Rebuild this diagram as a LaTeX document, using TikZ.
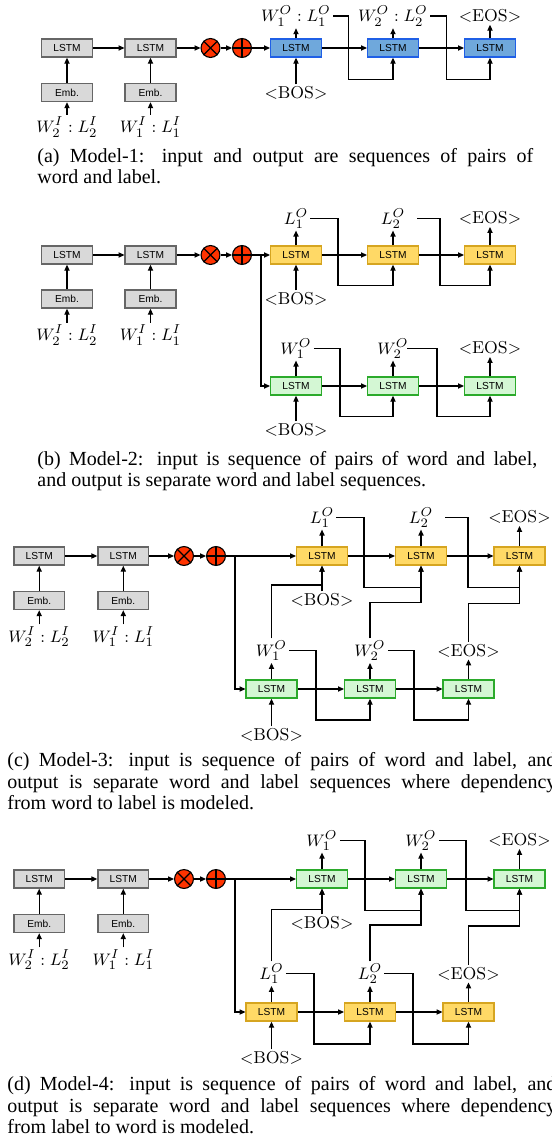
\documentclass[tikz,border=0pt]{standalone}
\usepackage{fontspec}
\newfontfamily\capfont{Liberation Serif}
\newfontfamily\boxfont{Liberation Sans}
\usetikzlibrary{arrows.meta}
\newlength\pxu \setlength\pxu{0.54pt}
\definecolor{grayfill}{HTML}{D9D9D9}
\definecolor{grayline}{HTML}{666666}
\definecolor{bluefill}{HTML}{6FA8DC}
\definecolor{blueline}{HTML}{1F5FE6}
\definecolor{yelfill}{HTML}{FFD966}
\definecolor{yelline}{HTML}{D6A520}
\definecolor{grnfill}{HTML}{D4F7D4}
\definecolor{grnline}{HTML}{2BAA2B}
\definecolor{opred}{HTML}{FF3300}
\tikzset{
  ln/.style={line width=0.6pt, black},
  arr/.style={ln, -{Triangle[length=3.2pt,width=2.8pt]}},
  lstmbox/.style={draw, line width=0.8pt, minimum width=27.3pt, minimum height=9.7pt, inner sep=0pt, font=\boxfont\fontsize{5.5}{6}\selectfont},
  graybox/.style={lstmbox, fill=grayfill, draw=grayline},
  bluebox/.style={lstmbox, fill=bluefill, draw=blueline},
  yellowbox/.style={lstmbox, fill=yelfill, draw=yelline},
  greenbox/.style={lstmbox, fill=grnfill, draw=grnline},
  lab/.style={inner sep=1pt, font=\fontsize{9.3}{11}\selectfont},
  opnode/.style={circle, draw, fill=opred, minimum size=10.2pt, inner sep=0pt, line width=0.6pt},
  capnode/.style={anchor=base west, inner sep=0pt, font=\capfont\fontsize{10.8}{12}\selectfont},
}
% #1 prefix, #2 x LSTM1, #3 x LSTM2, #4 x times, #5 x plus, #6 y LSTM, #7 y Emb, #8 y input label
\newcommand\Encoder[8]{%
  \node[graybox] (#1l1) at (#2,#6) {LSTM};
  \node[graybox] (#1l2) at (#3,#6) {LSTM};
  \node[graybox] (#1e1) at (#2,#7) {Emb.};
  \node[graybox] (#1e2) at (#3,#7) {Emb.};
  \node[lab] (#1i1) at (#2,#8) {$W_2^I : L_2^I$};
  \node[lab] (#1i2) at (#3,#8) {$W_1^I : L_1^I$};
  \node[opnode] (#1m) at (#4,#6) {};
  \node[opnode] (#1p) at (#5,#6) {};
  \draw[ln] (#1m.45) -- (#1m.225) (#1m.135) -- (#1m.315);
  \draw[ln] (#1p.north) -- (#1p.south) (#1p.east) -- (#1p.west);
  \draw[arr] (#1i1) -- (#1e1);
  \draw[arr] (#1i2) -- (#1e2);
  \draw[arr] (#1e1) -- (#1l1);
  \draw[arr] (#1e2) -- (#1l2);
  \draw[arr] (#1l1) -- (#1l2);
  \draw[arr] (#1l2) -- (#1m);
  \draw[arr] (#1m) -- (#1p);
}
\begin{document}
\begin{tikzpicture}[x=0.54pt,y=-0.54pt]
\useasboundingbox (0,0) rectangle (552,1145);

%% ---------------- (a)
\Encoder{a}{67}{150.5}{210.5}{242}{48}{92.5}{127}
\node[bluebox] (aD1) at (296,48) {LSTM};
\node[bluebox] (aD2) at (393,48) {LSTM};
\node[bluebox] (aD3) at (490,48) {LSTM};
\node[lab] (aT1) at (296,16) {$W_1^O : L_1^O$};
\node[lab] (aT2) at (393,16) {$W_2^O : L_2^O$};
\node[lab] (aT3) at (490,16) {$<$EOS$>$};
\node[lab] (aB) at (296,93) {$<$BOS$>$};
\draw[arr] (ap) -- (aD1);
\draw[arr] (aD1) -- (aD2);
\draw[arr] (aD2) -- (aD3);
\draw[arr] (aD1) -- (aT1);
\draw[arr] (aD2) -- (aT2);
\draw[arr] (aD3) -- (aT3);
\draw[arr] (aB) -- (aD1);
\coordinate (aK1) at (348.6,79.3);
\coordinate (aK2) at (446.5,79.3);
\draw[arr] (aT1.east) -| (aK1) -| (aD2.south);
\draw[arr] (aT2.east) -| (aK2) -| (aD3.south);
\node[capnode] (ca1) at (37,163) {\makebox[496\pxu][s]{(a) Model-1: input and output are sequences of pairs of}};
\node[capnode] (ca2) at (37,184) {word and label.};

%% ---------------- (b)
\Encoder{b}{67}{150.5}{210.5}{242}{255}{299}{335}
\node[yellowbox] (bD1) at (296,255) {LSTM};
\node[yellowbox] (bD2) at (393,255) {LSTM};
\node[yellowbox] (bD3) at (490,255) {LSTM};
\node[lab] (bT1) at (296,218.3) {$L_1^O$};
\node[lab] (bT2) at (393,218.3) {$L_2^O$};
\node[lab] (bT3) at (490,218.3) {$<$EOS$>$};
\node[lab] (bB) at (296,299) {$<$BOS$>$};
\node[greenbox] (bG1) at (296,386) {LSTM};
\node[greenbox] (bG2) at (393,386) {LSTM};
\node[greenbox] (bG3) at (490,386) {LSTM};
\node[lab] (bW1) at (296,348.3) {$W_1^O$};
\node[lab] (bW2) at (393,348.3) {$W_2^O$};
\node[lab] (bW3) at (490,348.3) {$<$EOS$>$};
\node[lab] (bBB) at (296,430) {$<$BOS$>$};
\coordinate (bJ) at (261,255);
\draw[ln] (bp) -- (bJ);
\draw[arr] (bJ) -- (bD1);
\draw[arr] (bJ) |- (bG1);
\foreach \r in {D,G}{
  \draw[arr] (b\r1) -- (b\r2);
  \draw[arr] (b\r2) -- (b\r3);
}
\draw[arr] (bD1) -- (bT1);
\draw[arr] (bD2) -- (bT2);
\draw[arr] (bD3) -- (bT3);
\draw[arr] (bG1) -- (bW1);
\draw[arr] (bG2) -- (bW2);
\draw[arr] (bG3) -- (bW3);
\draw[arr] (bB) -- (bD1);
\draw[arr] (bBB) -- (bG1);
\coordinate (bS2) at (417,218.3);
\coordinate (bK1) at (338,285.7);
\coordinate (bK2) at (440,285.7);
\draw[arr] (bT1.east) -| (bK1) -| (bD2.south);
\draw[arr] (bS2) -| (bK2) -| (bD3.south);
\coordinate (bR2) at (407,348.3);
\coordinate (bK3) at (340,416.7);
\coordinate (bK4) at (437,416.7);
\draw[arr] (bW1.east) -| (bK3) -| (bG2.south);
\draw[arr] (bR2) -| (bK4) -| (bG3.south);
\node[capnode] (cb1) at (37,465) {\makebox[500\pxu][s]{(b) Model-2: input is sequence of pairs of word and label,}};
\node[capnode] (cb2) at (37,486) {and output is separate word and label sequences.};

%% ---------------- (c)
\Encoder{c}{39.2}{123.3}{184}{216}{556}{600.5}{636.7}
\node[yellowbox] (cD1) at (322,556) {LSTM};
\node[yellowbox] (cD2) at (421,556) {LSTM};
\node[yellowbox] (cD3) at (519.5,556) {LSTM};
\node[lab] (cT1) at (322,517.3) {$L_1^O$};
\node[lab] (cT2) at (421,517.3) {$L_2^O$};
\node[lab] (cT3) at (519.5,517.3) {$<$EOS$>$};
\node[lab] (cB) at (322,600) {$<$BOS$>$};
\node[greenbox] (cG1) at (271.5,689) {LSTM};
\node[greenbox] (cG2) at (370,689) {LSTM};
\node[greenbox] (cG3) at (468.5,689) {LSTM};
\node[lab] (cW1) at (271.5,650.7) {$W_1^O$};
\node[lab] (cW2) at (370,650.7) {$W_2^O$};
\node[lab] (cW3) at (468.5,650.7) {$<$EOS$>$};
\node[lab] (cBB) at (271.5,735) {$<$BOS$>$};
\coordinate (cJ) at (235,556);
\draw[ln] (cp) -- (cJ);
\draw[arr] (cJ) -- (cD1);
\draw[arr] (cJ) |- (cG1);
\foreach \r in {D,G}{
  \draw[arr] (c\r1) -- (c\r2);
  \draw[arr] (c\r2) -- (c\r3);
}
\draw[arr] (cD1) -- (cT1);
\draw[arr] (cD2) -- (cT2);
\draw[arr] (cD3) -- (cT3);
\draw[arr] (cG1) -- (cW1);
\draw[arr] (cG2) -- (cW2);
\draw[arr] (cG3) -- (cW3);
\draw[arr] (cB) -- (cD1);
\draw[arr] (cBB) -- (cG1);
\coordinate (cS2) at (445.4,517.3);
\coordinate (cK1) at (364,587.3);
\coordinate (cK2) at (468,587.3);
\draw[arr] (cT1.east) -| (cK1) -| (cD2.south);
\draw[arr] (cS2) -| (cK2) -| (cD3.south);
\coordinate (cX1) at (322,585);
\coordinate (cX2) at (421,602.7);
\coordinate (cX3) at (519.5,603.3);
\draw[arr] (cW1.north) |- (cX1) -- (cD1.south);
\draw[arr] (cW2.north) |- (cX2) -- (cD2.south);
\draw[arr] (cW3.north) |- (cX3) -- (cD3.south);
\coordinate (cK3) at (316,720);
\coordinate (cK4) at (414,720);
\draw[arr] (cW1.east) -| (cK3) -| (cG2.south);
\draw[arr] (cW2.east) -| (cK4) -| (cG3.south);
\node[capnode] (cc1) at (7,766.5) {\makebox[549\pxu][s]{(c) Model-3: input is sequence of pairs of word and label, and}};
\node[capnode] (cc2) at (7,788) {\makebox[549\pxu][s]{output is separate word and label sequences where dependency}};
\node[capnode] (cc3) at (7,809.5) {from word to label is modeled.};

%% ---------------- (d)
\Encoder{d}{39.2}{123.3}{184}{216}{879}{923.5}{959.7}
\node[greenbox] (dG1) at (322,879) {LSTM};
\node[greenbox] (dG2) at (421,879) {LSTM};
\node[greenbox] (dG3) at (519.5,879) {LSTM};
\node[lab] (dT1) at (322,840.3) {$W_1^O$};
\node[lab] (dT2) at (421,840.3) {$W_2^O$};
\node[lab] (dT3) at (519.5,840.3) {$<$EOS$>$};
\node[lab] (dB) at (322,923) {$<$BOS$>$};
\node[yellowbox] (dY1) at (271.5,1012) {LSTM};
\node[yellowbox] (dY2) at (370,1012) {LSTM};
\node[yellowbox] (dY3) at (468.5,1012) {LSTM};
\node[lab] (dL1) at (271.5,973.7) {$L_1^O$};
\node[lab] (dL2) at (370,973.7) {$L_2^O$};
\node[lab] (dL3) at (468.5,973.7) {$<$EOS$>$};
\node[lab] (dBB) at (271.5,1058) {$<$BOS$>$};
\coordinate (dJ) at (235,879);
\draw[ln] (dp) -- (dJ);
\draw[arr] (dJ) -- (dG1);
\draw[arr] (dJ) |- (dY1);
\foreach \r in {G,Y}{
  \draw[arr] (d\r1) -- (d\r2);
  \draw[arr] (d\r2) -- (d\r3);
}
\draw[arr] (dG1) -- (dT1);
\draw[arr] (dG2) -- (dT2);
\draw[arr] (dG3) -- (dT3);
\draw[arr] (dY1) -- (dL1);
\draw[arr] (dY2) -- (dL2);
\draw[arr] (dY3) -- (dL3);
\draw[arr] (dB) -- (dG1);
\draw[arr] (dBB) -- (dY1);
\coordinate (dK1) at (365,910.7);
\coordinate (dK2) at (466,910.7);
\draw[arr] (dT1.east) -| (dK1) -| (dG2.south);
\draw[arr] (dT2.east) -| (dK2) -| (dG3.south);
\coordinate (dX1) at (322,909.3);
\coordinate (dX2) at (421,925);
\coordinate (dX3) at (519.5,926);
\draw[arr] (dL1.north) |- (dX1) -- (dG1.south);
\draw[arr] (dL2.north) |- (dX2) -- (dG2.south);
\draw[arr] (dL3.north) |- (dX3) -- (dG3.south);
\coordinate (dK3) at (314,1044);
\coordinate (dK4) at (413,1044);
\draw[arr] (dL1.east) -| (dK3) -| (dY2.south);
\draw[arr] (dL2.east) -| (dK4) -| (dY3.south);
\node[capnode] (cd1) at (7,1090.5) {\makebox[549\pxu][s]{(d) Model-4: input is sequence of pairs of word and label, and}};
\node[capnode] (cd2) at (7,1112) {\makebox[549\pxu][s]{output is separate word and label sequences where dependency}};
\node[capnode] (cd3) at (7,1133.5) {from label to word is modeled.};
\end{tikzpicture}
\end{document}
